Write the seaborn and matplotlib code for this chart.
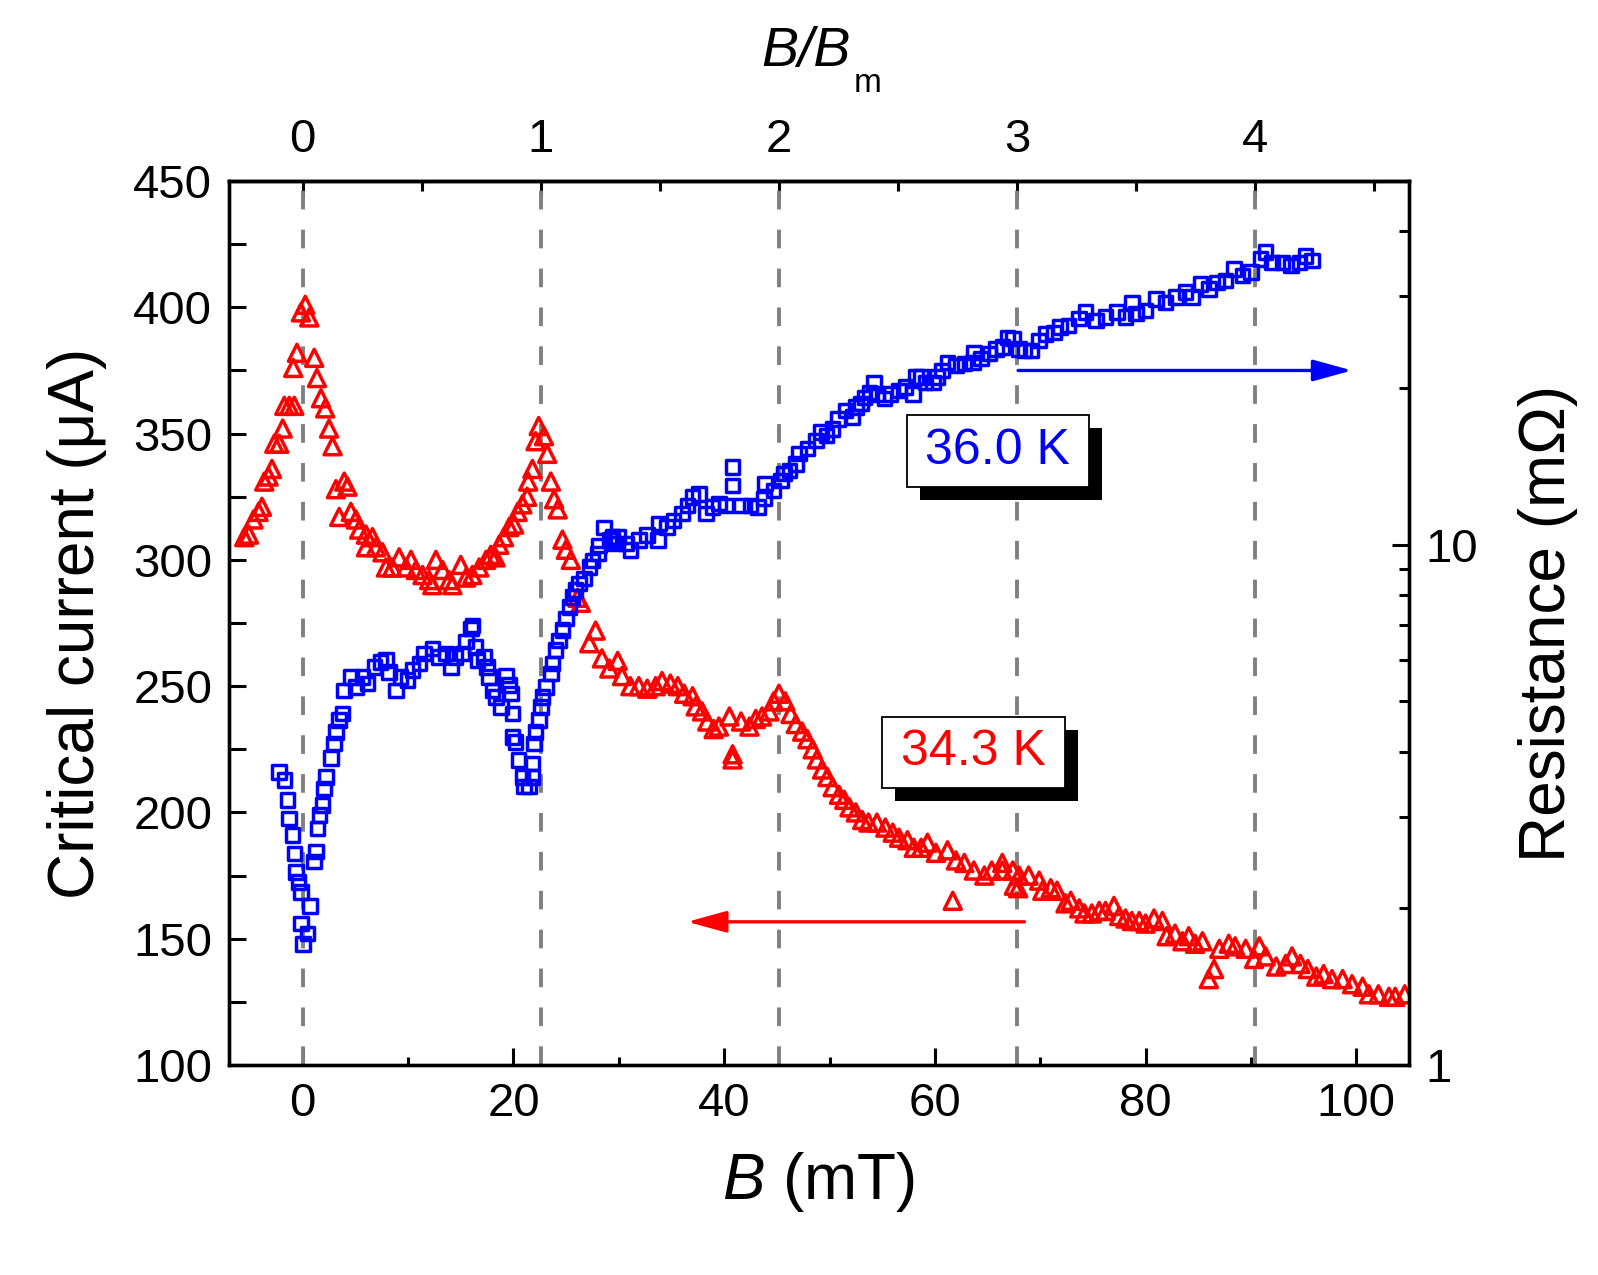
import matplotlib
matplotlib.use("Agg")
import matplotlib.pyplot as plt
import matplotlib.patheffects as pe
from matplotlib.patches import Rectangle
from matplotlib.ticker import MultipleLocator, FixedLocator, LogLocator, NullFormatter, FuncFormatter
import pandas as pd
import seaborn as sns

# matching field B_m (mT)
B_M = 22.6

# 34.3 K : critical current (uA) vs B (mT), left axis
red_B = [-5.55, -5.1, -4.67, -4.19, -3.87, -3.65, -3.24, -2.92, -2.7, -2.23, -1.9, -1.75, -1.28, -0.8,
         -0.9, -0.55, -0.17, 0.24, 0.62, 1.09, 1.35, 1.73, 2.13, 2.5, 2.83, 3.15, 3.94, 4.25, 3.46, 4.57,
         5.05, 5.36, 6.0, 6.0, 6.62, 6.94, 7.57, 7.9, 8.5, 9.15, 9.8, 10.27, 10.74, 11.37, 12.0, 12.3,
         12.64, 13.27, 13.9, 14.2, 15.0, 15.5, 16.1, 16.75, 17.4, 17.85, 18.3, 18.65, 19.1, 19.6, 20.07,
         20.4, 20.85, 21.3, 21.4, 21.8, 22.1, 22.4, 22.9, 23.2, 23.55, 23.86, 24.2, 24.65, 24.97, 25.45,
         26.08, 26.4, 27.2, 27.8, 28.4, 29.1, 29.9, 30.3, 31.1, 31.9, 32.7, 33.5, 34.1, 34.9, 35.6, 36.2,
         37.0, 37.3, 37.9, 38.4, 39.0, 39.5, 40.5, 40.8, 40.8, 41.6, 42.4, 43.0, 43.6, 44.3, 44.7, 45.2,
         45.8, 46.3, 46.8, 47.4, 47.9, 48.4, 48.8, 49.3, 49.8, 50.3, 50.9, 51.4, 51.9, 52.5, 53.1, 53.7,
         54.5, 55.3, 56.0, 56.6, 57.4, 58.0, 58.7, 59.3, 60.1, 61.2, 61.7, 62.0, 62.8, 63.7, 64.7, 65.4,
         66.4, 66.4, 67.4, 67.5, 67.9, 68.0, 68.9, 69.9, 70.2, 71.0, 71.6, 72.4, 72.9, 73.7, 74.2, 74.9,
         75.6, 76.2, 77.0, 77.5, 78.1, 78.7, 79.4, 80.0, 80.8, 81.6, 82.0, 82.8, 83.5, 84.1, 84.7, 85.4,
         86.0, 86.5, 87.0, 87.9, 88.5, 89.5, 90.3, 90.8, 91.4, 92.4, 93.3, 93.9, 94.7, 95.4, 96.2, 96.9,
         97.7, 98.7, 99.6, 100.6, 101.2, 102.1, 103.1, 103.7, 104.6]
red_Ic = [309, 310, 316, 319, 321, 331, 333, 336, 346, 346, 352, 361, 361, 361,
          376, 382, 398, 401, 396, 380, 372, 364, 360, 352, 345, 328, 331, 329, 317, 319,
          316, 312, 310, 305, 309, 305, 303, 297, 297, 301, 297, 300, 296, 294, 292, 290,
          300, 296, 292, 290, 298, 293, 294, 297, 300, 302, 301, 306, 309, 313, 314,
          319, 322, 325, 331, 336, 347, 353, 349, 342, 331, 324, 320, 308, 304, 300,
          285, 283, 267, 272, 261, 257, 260, 254, 250, 250, 249, 250, 252, 251, 250, 247,
          246, 242, 240, 236, 233, 234, 238, 223, 221, 236, 234, 237, 238, 240, 244, 247,
          244, 239, 235, 232, 229, 225, 221, 217, 214, 210, 207, 205, 202, 200, 197, 196,
          196, 194, 192, 190, 189, 186, 186, 188, 184, 185, 165, 181, 180, 177, 175, 177,
          177, 180, 177, 171, 170, 175, 175, 173, 169, 170, 169, 164, 165, 162, 160, 160,
          161, 161, 163, 159, 158, 157, 157, 156, 158, 157, 151, 152, 149, 151, 148, 149,
          134, 138, 146, 148, 147, 146, 142, 147, 143, 139, 140, 143, 140, 138, 135, 136,
          134, 134, 132, 131, 128, 128, 127, 127, 128]

# 36.0 K : resistance (mOhm) vs B (mT), right log axis
blue_B = [-2.23, -1.75, -1.44, -1.28, -0.97, -0.8, -0.65, -0.4, -0.17, -0.17, 0.0, 0.46, 0.68, 1.09,
          1.25, 1.4, 1.57, 1.88, 2.04, 2.2, 2.68, 2.99, 3.15, 3.46, 3.78, 3.94, 4.57, 5.05, 5.67, 6.15,
          6.8, 7.4, 7.9, 8.2, 8.84, 9.3, 9.95, 10.4, 11.07, 11.5, 12.3, 12.95, 13.6, 14.06, 14.5, 15.16,
          15.5, 15.96, 16.1, 16.4, 16.6, 17.2, 17.5, 17.7, 18.0, 18.34, 18.8, 19.3, 19.6, 19.75, 19.9,
          19.9, 20.2, 20.5, 20.85, 21.0, 21.5, 21.8, 21.8, 21.96, 22.1, 22.4, 22.6, 22.75, 23.07, 23.55,
          23.7, 24.0, 24.3, 24.65, 24.97, 25.3, 25.6, 25.9, 26.2, 26.7, 27.2, 27.5, 28.0, 28.1, 28.6,
          29.1, 29.4, 29.7, 29.9, 30.7, 31.1, 31.9, 32.7, 33.7, 33.8, 34.6, 35.2, 36.0, 36.5, 37.0, 37.6,
          38.3, 38.9, 39.5, 40.2, 40.8, 40.8, 41.6, 42.5, 43.2, 43.8, 43.9, 44.7, 45.4, 45.7, 46.2, 46.8,
          47.1, 47.9, 48.7, 49.2, 49.7, 50.3, 50.8, 51.5, 52.2, 52.5, 53.0, 53.3, 53.8, 54.2, 54.5, 55.2,
          55.8, 56.6, 57.2, 57.9, 58.2, 58.7, 59.1, 59.8, 60.2, 60.7, 61.2, 62.0, 62.8, 63.6, 63.7, 64.4,
          65.2, 65.8, 66.4, 66.9, 67.4, 68.0, 68.5, 69.1, 69.9, 70.5, 71.3, 71.9, 72.7, 73.7, 74.3, 75.3,
          76.2, 77.3, 78.1, 78.7, 79.1, 80.0, 81.0, 81.9, 82.9, 83.8, 84.4, 85.2, 86.0, 86.8, 87.6, 88.4,
          89.2, 90.0, 90.9, 91.4, 92.0, 93.0, 93.8, 94.6, 95.2, 95.8]
blue_R = [3.66, 3.53, 3.23, 2.98, 2.77, 2.55, 2.35, 2.25, 2.15, 1.87, 1.71, 1.79, 2.02, 2.46,
          2.57, 2.85, 3.02, 3.16, 3.40, 3.58, 3.89, 4.15, 4.37, 4.60, 4.74, 5.25, 5.57, 5.33, 5.57, 5.41,
          5.82, 5.95, 6.00, 5.69, 5.25, 5.57, 5.49, 5.74, 5.91, 6.18, 6.32, 6.09, 6.18, 5.82, 6.09, 6.18,
          6.51, 6.90, 7.00, 6.36, 6.00, 6.09, 5.82, 5.57, 5.25, 5.10, 4.88, 5.61, 5.37, 5.18, 4.74,
          4.27, 4.18, 3.86, 3.58, 3.43, 3.43, 3.58, 3.80, 4.15, 4.37, 4.60, 4.88, 5.10, 5.33, 5.66,
          5.91, 6.27, 6.55, 6.85, 7.21, 7.59, 7.94, 8.18, 8.42, 8.61, 9.06, 9.33, 9.61, 9.97, 10.8,
          10.2, 10.35, 10.05, 10.35, 10.05, 9.76, 10.2, 10.43, 10.2, 10.98, 10.81, 11.14, 11.47, 11.9, 12.35, 12.53,
          11.47, 11.81, 11.99, 11.9, 14.1, 13.0, 11.9, 11.9, 11.81, 12.26, 13.1, 12.72, 13.3, 13.7, 13.9, 14.3,
          14.96, 15.3, 15.87, 16.46, 16.2, 16.7, 17.46, 18.1, 17.6, 18.4, 18.7, 19.2, 19.6, 20.5, 19.5, 19.1,
          19.5, 19.8, 20.1, 19.5, 21.0, 21.0, 20.5, 20.5, 21.0, 21.6, 22.4, 22.1, 22.3, 22.4, 23.4, 22.8,
          23.3, 23.8, 24.0, 25.0, 24.9, 23.8, 23.6, 23.6, 24.7, 25.4, 25.6, 26.2, 26.4, 27.2, 28.0, 27.0,
          27.4, 28.0, 27.4, 29.2, 27.8, 28.2, 29.7, 29.2, 29.9, 30.6, 29.9, 31.7, 31.0, 31.9, 32.2, 33.9,
          32.9, 33.4, 35.4, 36.5, 34.9, 34.9, 34.4, 34.9, 35.9, 35.2]

top_ticks = [0, 1, 2, 3, 4]
right_ticks = [1, 10]

sns.set_style("ticks", rc={"axes.edgecolor": "black", "xtick.color": "black", "ytick.color": "black",
                           "text.color": "black", "axes.labelcolor": "black"})
plt.rcParams["font.family"] = ["Liberation Sans", "DejaVu Sans"]
plt.rcParams["mathtext.fontset"] = "custom"
plt.rcParams["mathtext.rm"] = "Liberation Sans"
plt.rcParams["mathtext.it"] = "Liberation Sans:italic"

red_df = pd.DataFrame({"B": red_B, "Ic": red_Ic})
blue_df = pd.DataFrame({"B": blue_B, "R": blue_R})

fig = plt.figure(figsize=(15.98, 12.75), dpi=100)
ax = fig.add_axes([0.1433, 0.1647, 0.7384, 0.6933])
ax2 = ax.twinx()

# dashed guides at integer multiples of B_m
for k in top_ticks:
    ax.axvline(k * B_M, color="#808080", lw=2.8, dashes=(4.8, 5.2), zorder=1)

sns.scatterplot(data=red_df, x="B", y="Ic", ax=ax, marker="^", s=150, facecolor="none",
                edgecolor="red", linewidth=2.5, legend=False, zorder=3)
sns.scatterplot(data=blue_df, x="B", y="R", ax=ax2, marker="s", s=95, facecolor="none",
                edgecolor="blue", linewidth=2.5, legend=False, zorder=3)

ax.set_xlim(-7, 105)
ax.set_ylim(100, 450)
ax2.set_yscale("log")
ax2.set_ylim(1, 50)

# arrows pointing to the relevant axis
arrow_style = "-|>,head_length=0.8,head_width=0.22"
ax.annotate("", xy=(99.6, 375), xytext=(67.9, 375),
            arrowprops=dict(arrowstyle=arrow_style, color="blue", lw=2.4, mutation_scale=30,
                            shrinkA=0, shrinkB=0), zorder=4)
ax.annotate("", xy=(36.5, 156.7), xytext=(68.5, 156.7),
            arrowprops=dict(arrowstyle=arrow_style, color="red", lw=2.4, mutation_scale=30,
                            shrinkA=0, shrinkB=0), zorder=4)

# ticks
ax.xaxis.set_major_locator(MultipleLocator(20))
ax.xaxis.set_minor_locator(MultipleLocator(10))
ax.yaxis.set_major_locator(MultipleLocator(50))
ax.yaxis.set_minor_locator(MultipleLocator(25))
ax.tick_params(which="both", direction="in", width=2.2, top=False, right=False, labelsize=34)
ax.tick_params(axis="x", which="major", length=12, pad=12)
ax.tick_params(axis="x", which="minor", length=6)
ax.tick_params(axis="y", which="both", length=12, pad=12)

ax2.yaxis.set_major_locator(FixedLocator(right_ticks))
ax2.yaxis.set_major_formatter(FuncFormatter(lambda v, p: f"{v:g}"))
ax2.yaxis.set_minor_locator(LogLocator(base=10, subs=range(2, 10)))
ax2.yaxis.set_minor_formatter(NullFormatter())
ax2.tick_params(which="both", direction="in", width=2.2, labelsize=34, pad=12)
ax2.tick_params(which="major", length=12)
ax2.tick_params(which="minor", length=7)

secax = ax.secondary_xaxis("top", functions=(lambda b: b / B_M, lambda r: r * B_M))
secax.xaxis.set_major_locator(FixedLocator(top_ticks))
secax.xaxis.set_minor_locator(MultipleLocator(0.5))
secax.tick_params(which="both", direction="in", width=2.2, labelsize=34, pad=14)
secax.tick_params(which="major", length=12)
secax.tick_params(which="minor", length=7)

for a in (ax, ax2):
    for sp in a.spines.values():
        sp.set_linewidth(2.4)
for sp in secax.spines.values():
    sp.set_linewidth(2.4)

# axis labels
ax.set_xlabel(r"$B$ (mT)", fontsize=46)
ax.xaxis.set_label_coords(0.5, -0.096)
ax.set_ylabel("Critical current (μA)", fontsize=46)
ax.yaxis.set_label_coords(-0.103, 0.5)
ax2.set_ylabel("Resistance (mΩ)", fontsize=46)
ax2.yaxis.set_label_coords(1.092, 0.5)

# top label B/B_m, drawn as italic B/B plus a lowered subscript m
fig.text(0.5325, 0.9482, "B/B", fontsize=40, style="italic", ha="right", va="baseline")
fig.text(0.5344, 0.9278, "m", fontsize=24, ha="left", va="baseline")

# temperature labels in shadowed boxes
labels = [("36.0 K", "blue", (0.5743, 0.6542)), ("34.3 K", "red", (0.5536, 0.3130))]
for text, col, (x0, y0) in labels:
    box = Rectangle((x0, y0), 0.1545, 0.0811, transform=ax2.transAxes, facecolor="white",
                    edgecolor="black", lw=1.3, zorder=5)
    box.set_path_effects([pe.SimplePatchShadow(offset=(9.4, -9.4), shadow_rgbFace="black", alpha=1),
                          pe.Normal()])
    ax2.add_patch(box)
    ax2.text(x0 + 0.1545 / 2, y0 + 0.0811 / 2, text, color=col, fontsize=36, ha="center",
             va="center", transform=ax2.transAxes, zorder=6)

fig.savefig("out.png", dpi=100)
